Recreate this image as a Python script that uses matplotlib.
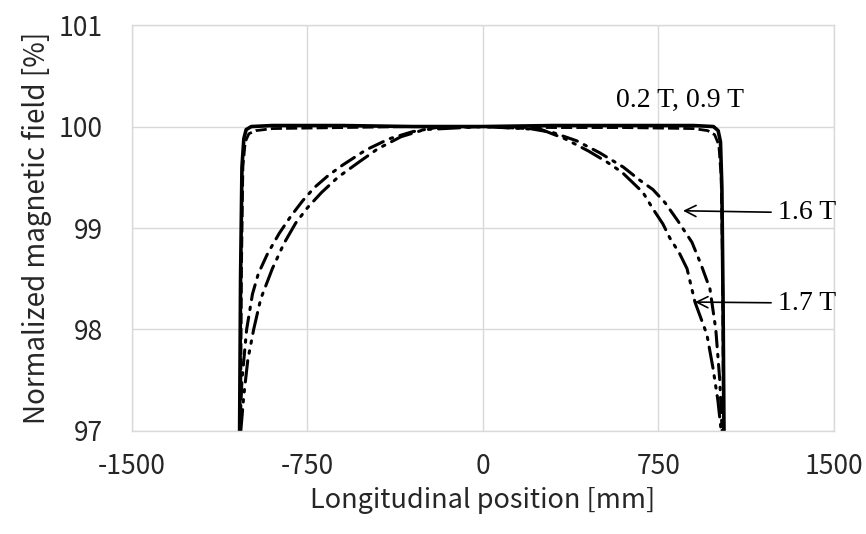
import numpy as np
import matplotlib.pyplot as plt

x_02 = [-1040, -1036, -1030, -1022, -1012, -990, -900, -600, -300, 0, 300, 600, 900, 985, 1005, 1015, 1021, 1026, 1030]
y_02 = [97.0, 98.5, 99.6, 99.88, 99.97, 100.0, 100.01, 100.01, 100.0, 100.0, 100.01, 100.01, 100.01, 100.0, 99.96, 99.85, 99.4, 98.3, 97.0]

x_09 = [-1036, -1032, -1026, -1016, -1000, -970, -900, -600, -300, 0, 300, 600, 900, 960, 990, 1008, 1018, 1024, 1028]
y_09 = [97.0, 98.6, 99.6, 99.85, 99.93, 99.96, 99.98, 99.99, 100.0, 100.0, 99.99, 99.99, 99.98, 99.96, 99.92, 99.82, 99.5, 98.6, 97.0]

x_16 = [-1040, -1030, -1010, -985, -960, -920, -870, -820, -770, -720, -660, -600, -500, -400, -300, -200, 0,
        200, 300, 400, 500, 600, 671, 726, 778, 833, 893, 932, 970, 995, 1012, 1022]
y_16 = [97.0, 97.5, 98.0, 98.35, 98.55, 98.75, 98.95, 99.12, 99.27, 99.4, 99.52, 99.62, 99.77, 99.88, 99.95, 99.99, 100.0,
        99.98, 99.94, 99.86, 99.74, 99.6, 99.47, 99.38, 99.25, 99.07, 98.86, 98.64, 98.4, 98.0, 97.5, 97.0]

x_17 = [-1035, -1022, -1005, -980, -950, -900, -850, -800, -750, -690, -620, -530, -450, -350, -250, 0,
        250, 350, 450, 530, 594, 684, 726, 769, 799, 840, 872, 906, 957, 983, 1004, 1018]
y_17 = [97.0, 97.35, 97.7, 98.0, 98.3, 98.6, 98.85, 99.05, 99.2, 99.35, 99.5, 99.65, 99.78, 99.9, 99.97, 100.0,
        99.97, 99.88, 99.76, 99.65, 99.55, 99.35, 99.19, 99.04, 98.9, 98.75, 98.6, 98.27, 97.95, 97.62, 97.3, 97.0]

x_ticks = [-1500, -750, 0, 750, 1500]
y_ticks = [97, 98, 99, 100, 101]

tick_font = "Noto Sans CJK JP"
note_font = "Liberation Serif"

fig = plt.figure(figsize=(8.66, 5.34), dpi=100)
ax = fig.add_axes([0.1524, 0.193, 0.8106, 0.760])

ax.plot(x_02, y_02, color="black", lw=2.6, solid_joinstyle="round")
ax.plot(x_09, y_09, color="black", lw=2.0, dashes=(4, 1.5))
ax.plot(x_16, y_16, color="black", lw=2.2, dashes=(5, 2.5, 0.8, 2.5), dash_capstyle="round")
ax.plot(x_17, y_17, color="black", lw=2.2, dashes=(7, 2.5, 0.8, 2.5, 0.8, 2.5), dash_capstyle="round")

ax.set_xlim(-1500, 1500)
ax.set_ylim(97, 101)
ax.set_xticks(x_ticks)
ax.set_yticks(y_ticks)
ax.set_xticklabels([str(t) for t in x_ticks], fontfamily=tick_font, fontsize=19)
ax.set_yticklabels([str(t) for t in y_ticks], fontfamily=tick_font, fontsize=19)
ax.tick_params(axis="y", length=0, pad=21, colors="#262626")
ax.tick_params(axis="x", length=0, pad=16, colors="#262626")
ax.grid(color="#d9d9d9", lw=1.0)
ax.set_axisbelow(True)
for s in ax.spines.values():
    s.set_color("#d9d9d9")
    s.set_linewidth(1.0)

ax.set_xlabel("Longitudinal position [mm]", fontfamily=tick_font, fontsize=19.5, color="#262626", labelpad=5)
ax.set_ylabel("Normalized magnetic field [%]", fontfamily=tick_font, fontsize=20, color="#262626", labelpad=5)

ax.text(842, 100.26, "0.2 T, 0.9 T", fontfamily=note_font, fontsize=20, ha="center", va="center")
ax.annotate("1.6 T", xy=(855, 99.17), xytext=(1261, 99.15), fontfamily=note_font, fontsize=20,
            va="center", ha="left",
            arrowprops=dict(arrowstyle="->", color="black", lw=1.2, shrinkA=3, shrinkB=0, mutation_scale=20))
ax.annotate("1.7 T", xy=(906, 98.27), xytext=(1261, 98.26), fontfamily=note_font, fontsize=20,
            va="center", ha="left",
            arrowprops=dict(arrowstyle="->", color="black", lw=1.2, shrinkA=3, shrinkB=0, mutation_scale=20))

fig.savefig("out.png", dpi=100)
